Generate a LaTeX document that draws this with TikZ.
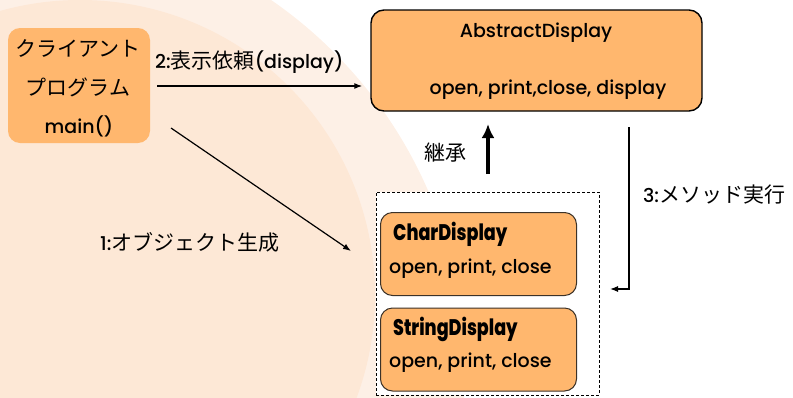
\documentclass[tikz,border=0pt]{standalone}
\usepackage{fontspec}
\setmainfont{Poppins Medium}
\newfontfamily\jpfont{Noto Sans CJK JP}
\newfontfamily\heavyfont{Poppins ExtraBold}[FakeStretch=0.78]
\usetikzlibrary{arrows.meta}

\definecolor{bgouter}{RGB}{253,240,230}
\definecolor{bginner}{RGB}{253,232,214}
\definecolor{boxfill}{RGB}{255,183,110}
\definecolor{boxline}{RGB}{60,50,40}

\tikzset{
  clientbox/.style={rectangle, rounded corners=12pt, fill=boxfill, draw=none,
    minimum width=142pt, minimum height=115pt, inner sep=0pt},
  classbox/.style={rectangle, rounded corners=13pt, fill=boxfill, draw=black,
    line width=1.4pt, inner sep=0pt},
  subbox/.style={rectangle, rounded corners=12pt, fill=boxfill, draw=boxline,
    line width=1pt, minimum width=196pt, minimum height=83pt, inner sep=0pt},
  groupbox/.style={rectangle, draw=black, line width=1pt, fill=white,
    dash pattern=on 3pt off 2pt, minimum width=223pt, minimum height=203pt, inner sep=0pt},
  txt/.style={inner sep=0pt, font=\fontsize{19}{22}\selectfont},
  jptxt/.style={inner sep=0pt, font=\jpfont\fontsize{21}{24}\selectfont},
  heavy/.style={inner sep=0pt, font=\heavyfont\fontsize{22.5}{25}\selectfont},
  arr/.style={-{Latex[length=8pt,width=6pt]}, line width=1.2pt},
  inherit/.style={-{Latex[length=14pt,width=13pt]}, line width=4pt},
}
\newcommand\jp[1]{{\jpfont\fontsize{21}{24}\selectfont #1}}

\begin{document}
\begin{tikzpicture}[x=1pt,y=-1pt]
  \useasboundingbox (0,0) rectangle (793,397);

  % soft background discs
  \begin{scope}
    \clip (0,0) rectangle (793,397);
    \fill[bgouter] (17,369) circle (448);
    \fill[bginner] (80,295) circle (295);
  \end{scope}

  % client program
  \node[clientbox] (client) at (79,85.5) {};
  \node[jptxt] (c1) at (78,48) {クライアント};
  \node[jptxt] (c2) at (78,87) {プログラム};
  \node[txt] (c3) at (79,126) {main()};

  % abstract class
  \node[classbox, minimum width=331pt, minimum height=101pt] (abs) at (536.5,60.5) {};
  \node[txt] (absname) at (536,33) {AbstractDisplay};
  \node[txt] (absops) at (548,90) {open, print,close, display};

  % concrete classes
  \node[groupbox] (group) at (487.5,293.5) {};
  \node[subbox] (char) at (478.5,254) {};
  \node[heavy, anchor=west] (charname) at (393,234) {CharDisplay};
  \node[txt, anchor=west] (charops) at (389,269) {open, print, close};
  \node[subbox] (string) at (478.5,349.5) {};
  \node[heavy, anchor=west] (strname) at (393,329) {StringDisplay};
  \node[txt, anchor=west] (strops) at (389,363) {open, print, close};

  % labels
  \node[txt, anchor=west] (l2) at (155,62) {2:\jp{表示依頼}(display)};
  \node[txt, anchor=west] (l1) at (100,242) {1:\jp{オブジェクト生成}};
  \node[txt, anchor=west] (l3) at (643,195) {3:\jp{メソッド実行}};
  \node[jptxt] (linh) at (445,153) {継承};

  % connectors
  \draw[arr, shorten <=7pt, shorten >=8pt] (client.east |- 0,86) -- (abs.west |- 0,86);
  \coordinate (a1s) at (171,128);
  \coordinate (a1e) at (351,251);
  \draw[arr] (a1s) -- (a1e);
  \coordinate (inhs) at (488,174);
  \coordinate (inhe) at (488,124);
  \draw[inherit] (inhs) -- (inhe);
  \coordinate (m1) at (629,127);
  \coordinate (m2) at (629,289);
  \coordinate (m3) at (610,289);
  \draw[arr] (m1) -- (m2) -- (m3);
\end{tikzpicture}
\end{document}
